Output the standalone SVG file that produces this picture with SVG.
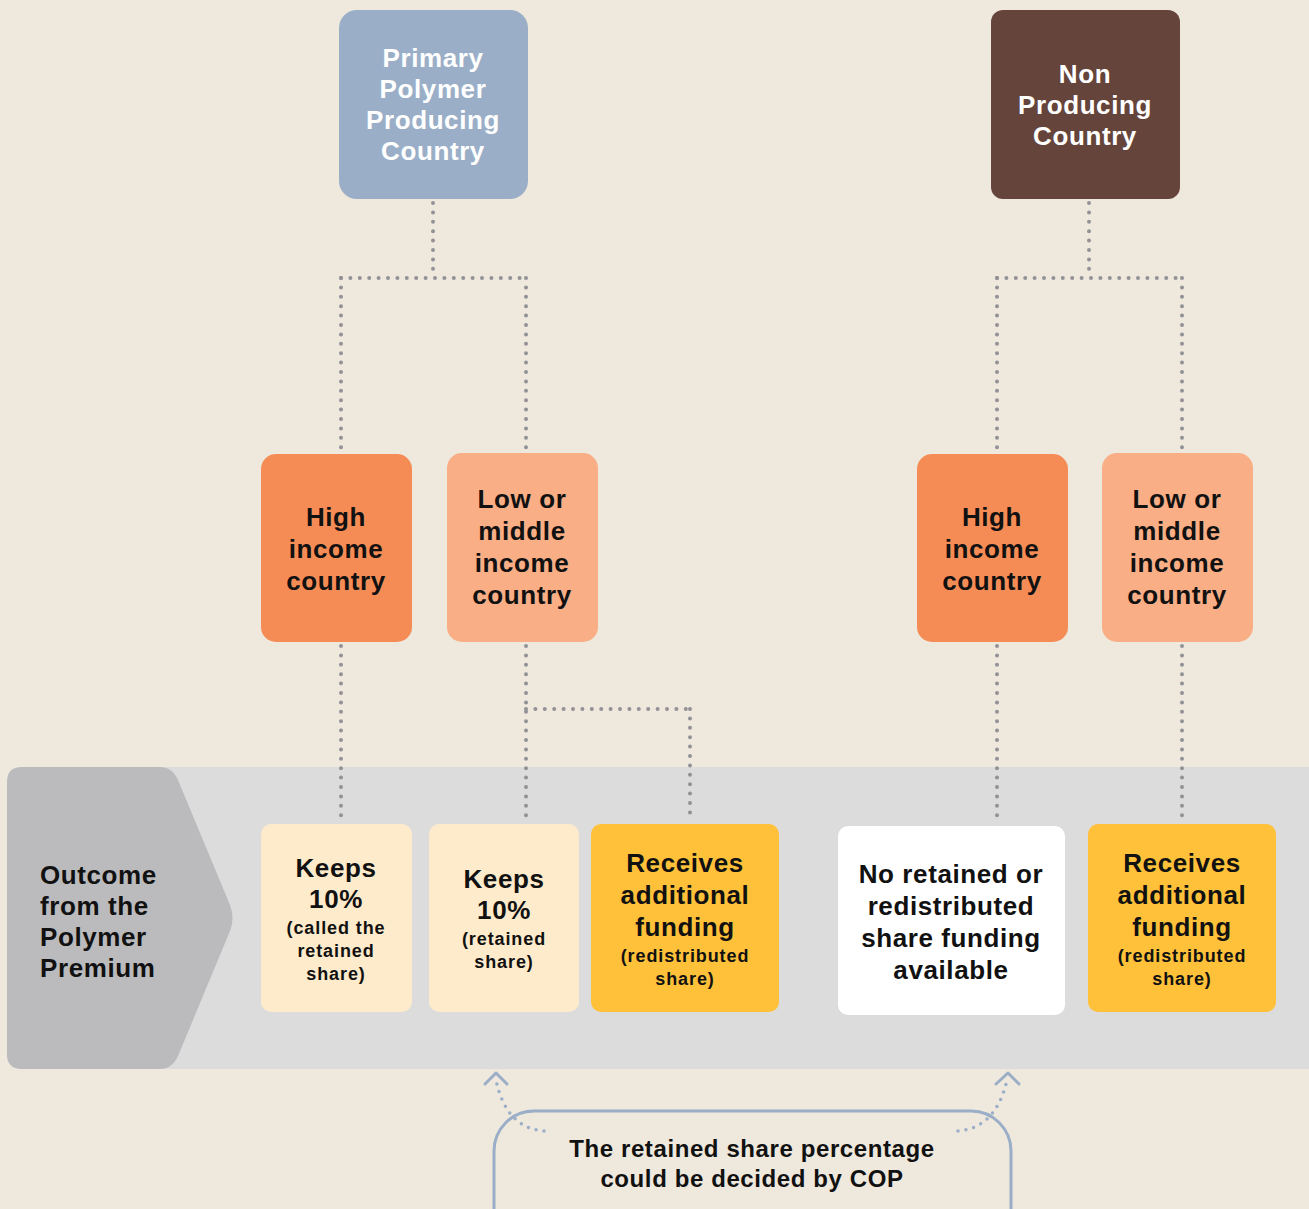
<svg xmlns="http://www.w3.org/2000/svg" width="1309" height="1209" viewBox="0 0 1309 1209">
<defs>
<style>
text{font-family:"Liberation Sans",Arial,sans-serif;font-weight:700;text-anchor:middle;letter-spacing:0.6px;}
.w{fill:#ffffff;font-size:26px;}
.b{fill:#111111;font-size:26px;}
.s{fill:#111111;font-size:18px;letter-spacing:0.9px;}
.dot{fill:none;stroke:#929296;stroke-width:4;stroke-linecap:round;stroke-dasharray:0 9.4;}
.dotb{fill:none;stroke:#9AAFC7;stroke-width:3.5;stroke-linecap:round;stroke-dasharray:0 8;}
.arr{fill:none;stroke:#9AAFC7;stroke-width:3;stroke-linecap:round;stroke-linejoin:round;}
</style>
</defs>
<rect x="0" y="0" width="1309" height="1209" fill="#EFE8DD"/>
<g id="band">
<path d="M22 767 H1309 V1069 H22 Q7 1069 7 1054 V782 Q7 767 22 767 Z" fill="#DCDCDD"/>
<path d="M22 767 H160 Q172 767 178 780 L230 905 Q235 918 230 931 L178 1056 Q172 1069 160 1069 H22 Q7 1069 7 1054 V782 Q7 767 22 767 Z" fill="#BBBBBD"/>
<text class="b" style="text-anchor:start"><tspan x="40" y="884">Outcome</tspan><tspan x="40" y="915">from the</tspan><tspan x="40" y="946">Polymer</tspan><tspan x="40" y="977">Premium</tspan></text>
</g>
<g id="connectors">
<path class="dot" d="M433 203 V278"/>
<path class="dot" d="M341 278 H526"/>
<path class="dot" d="M341 278 V452"/>
<path class="dot" d="M526 278 V452"/>
<path class="dot" d="M1089 203 V278"/>
<path class="dot" d="M997 278 H1182"/>
<path class="dot" d="M997 278 V452"/>
<path class="dot" d="M1182 278 V452"/>
<path class="dot" d="M341 646 V820"/>
<path class="dot" d="M526 646 V818"/>
<path class="dot" d="M526 709 H690"/>
<path class="dot" d="M690 709 V818"/>
<path class="dot" d="M997 646 V822"/>
<path class="dot" d="M1182 646 V820"/>
</g>
<g id="primary">
<rect x="339" y="10" width="189" height="189" rx="18" fill="#9AAFC7"/>
<text class="w"><tspan x="433" y="67">Primary</tspan><tspan x="433" y="98">Polymer</tspan><tspan x="433" y="129">Producing</tspan><tspan x="433" y="160">Country</tspan></text>
</g>
<g id="nonproducing">
<rect x="991" y="10" width="189" height="189" rx="12" fill="#65453B"/>
<text class="w"><tspan x="1085" y="83">Non</tspan><tspan x="1085" y="114">Producing</tspan><tspan x="1085" y="145">Country</tspan></text>
</g>
<g id="high1">
<rect x="261" y="454" width="151" height="188" rx="15" fill="#F68C55"/>
<text class="b"><tspan x="336" y="526">High</tspan><tspan x="336" y="558">income</tspan><tspan x="336" y="590">country</tspan></text>
</g>
<g id="low1">
<rect x="447" y="453" width="151" height="189" rx="15" fill="#F9AE85"/>
<text class="b"><tspan x="522" y="508">Low or</tspan><tspan x="522" y="540">middle</tspan><tspan x="522" y="572">income</tspan><tspan x="522" y="604">country</tspan></text>
</g>
<g id="high2">
<rect x="917" y="454" width="151" height="188" rx="15" fill="#F68C55"/>
<text class="b"><tspan x="992" y="526">High</tspan><tspan x="992" y="558">income</tspan><tspan x="992" y="590">country</tspan></text>
</g>
<g id="low2">
<rect x="1102" y="453" width="151" height="189" rx="15" fill="#F9AE85"/>
<text class="b"><tspan x="1177" y="508">Low or</tspan><tspan x="1177" y="540">middle</tspan><tspan x="1177" y="572">income</tspan><tspan x="1177" y="604">country</tspan></text>
</g>
<g id="keeps1">
<rect x="261" y="824" width="151" height="188" rx="10" fill="#FEEBCB"/>
<text class="b"><tspan x="336" y="877">Keeps</tspan><tspan x="336" y="908">10%</tspan></text>
<text class="s"><tspan x="336" y="934">(called the</tspan><tspan x="336" y="957">retained</tspan><tspan x="336" y="980">share)</tspan></text>
</g>
<g id="keeps2">
<rect x="429" y="824" width="150" height="188" rx="10" fill="#FEEBCB"/>
<text class="b"><tspan x="504" y="888">Keeps</tspan><tspan x="504" y="919">10%</tspan></text>
<text class="s"><tspan x="504" y="945">(retained</tspan><tspan x="504" y="968">share)</tspan></text>
</g>
<g id="receives1">
<rect x="591" y="824" width="188" height="188" rx="10" fill="#FFC13A"/>
<text class="b"><tspan x="685" y="872">Receives</tspan><tspan x="685" y="904">additional</tspan><tspan x="685" y="936">funding</tspan></text>
<text class="s"><tspan x="685" y="962">(redistributed</tspan><tspan x="685" y="985">share)</tspan></text>
</g>
<g id="noretained">
<rect x="838" y="826" width="227" height="189" rx="10" fill="#FFFFFF"/>
<text class="b"><tspan x="951" y="883">No retained or</tspan><tspan x="951" y="915">redistributed</tspan><tspan x="951" y="947">share funding</tspan><tspan x="951" y="979">available</tspan></text>
</g>
<g id="receives2">
<rect x="1088" y="824" width="188" height="188" rx="10" fill="#FFC13A"/>
<text class="b"><tspan x="1182" y="872">Receives</tspan><tspan x="1182" y="904">additional</tspan><tspan x="1182" y="936">funding</tspan></text>
<text class="s"><tspan x="1182" y="962">(redistributed</tspan><tspan x="1182" y="985">share)</tspan></text>
</g>
<g id="callout">
<rect x="494" y="1111" width="517" height="140" rx="40" fill="none" stroke="#9AAFC7" stroke-width="3"/>
<text class="b" style="font-size:24px"><tspan x="752" y="1157">The retained share percentage</tspan><tspan x="752" y="1187">could be decided by COP</tspan></text>
<path class="dotb" d="M544 1131 Q506 1128 496 1080"/>
<path class="arr" d="M485 1084 L496 1073 L507 1084"/>
<path class="dotb" d="M958 1131 Q996 1128 1007 1080"/>
<path class="arr" d="M996 1084 L1008 1073 L1019 1084"/>
</g>
</svg>
